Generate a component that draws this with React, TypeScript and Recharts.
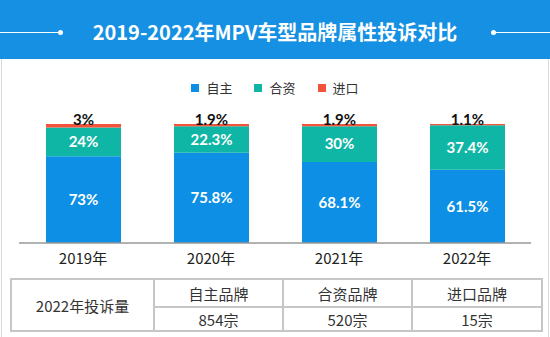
import React from 'react';
import { BarChart, Bar, XAxis, YAxis, Legend, LabelList } from 'recharts';

const years = ['2019年', '2020年', '2021年', '2022年'];
const domestic = [73, 75.8, 68.1, 61.5];
const joint = [24, 22.3, 30, 37.4];
const imported = [3, 1.9, 1.9, 1.1];
const seriesNames = ['自主', '合资', '进口'];

const tableTitle = '2022年投诉量';
const brandHeads = ['自主品牌', '合资品牌', '进口品牌'];
const counts2022 = ['854宗', '520宗', '15宗'];

const COLORS = ['#0C8FE4', '#10B6A5', '#F2533B'];
const CJK = '"Noto Sans CJK SC", "Noto Sans", sans-serif';
const NUM = 'Lato, "Noto Sans", sans-serif';

const chartData = years.map((year, i) => ({
  year,
  domestic: domestic[i],
  joint: joint[i],
  imported: imported[i],
}));

const pct = (v: any) => `${v}%`;

const TopLabel = (props: any) => {
  const { x, y, width, value } = props;
  return (
    <text
      x={x + width / 2}
      y={y + 1}
      textAnchor="middle"
      fill="#111"
      fontSize={15}
      fontWeight={700}
      fontFamily={NUM}
    >
      {pct(value)}
    </text>
  );
};

const LegendContent = () => (
  <div style={{ display: 'flex', justifyContent: 'center', gap: 22, fontFamily: CJK, fontSize: 13, color: '#333' }}>
    {seriesNames.map((name, i) => (
      <div key={name} style={{ display: 'flex', alignItems: 'center' }}>
        <span style={{ width: 8, height: 8, background: COLORS[i], marginRight: 7, display: 'inline-block' }} />
        <span>{name}</span>
      </div>
    ))}
  </div>
);

const cell: React.CSSProperties = {
  border: '2px solid #c6c6c6',
  textAlign: 'center',
  padding: 0,
  color: '#333',
  fontSize: 15,
  fontFamily: CJK,
};

const App: React.FC = () => {
  return (
    <div style={{ position: 'fixed', left: 0, top: 0, width: 550, height: 337, background: '#fff', overflow: 'hidden' }}>
      {/* header */}
      <div style={{ position: 'absolute', left: 0, top: 0, width: 550, height: 59, background: '#1590E3' }}>
        <div style={{ position: 'absolute', left: 0, top: 32, width: 60, height: 1, background: '#fff' }} />
        <div style={{ position: 'absolute', left: 58, top: 30, width: 5, height: 5, borderRadius: 3, background: '#fff' }} />
        <div style={{ position: 'absolute', left: 491, top: 30, width: 5, height: 5, borderRadius: 3, background: '#fff' }} />
        <div style={{ position: 'absolute', left: 493, top: 32, width: 57, height: 1, background: '#fff' }} />
        <div
          style={{
            position: 'absolute',
            left: 0,
            top: 17,
            width: 550,
            textAlign: 'center',
            color: '#fff',
            fontFamily: CJK,
            fontWeight: 700,
            fontSize: 20,
            lineHeight: '30px',
          }}
        >
          2019-2022年MPV车型品牌属性投诉对比
        </div>
      </div>
      {/* panel borders */}
      <div style={{ position: 'absolute', left: 1, top: 59, width: 546, height: 278, borderLeft: '1px solid #d8d8d8', borderRight: '1px solid #d8d8d8' }} />

      <div style={{ position: 'absolute', left: 0, top: 0 }}>
        <BarChart width={550} height={337} data={chartData} margin={{ top: 124, right: 19, left: 19, bottom: 64 }}>
          <XAxis
            dataKey="year"
            height={30}
            tickLine={false}
            tickSize={0}
            tickMargin={10}
            axisLine={{ stroke: '#999', strokeWidth: 1.5 }}
            tick={{ fill: '#222', fontSize: 15, fontFamily: CJK }}
          />
          <YAxis hide domain={[0, 100]} />
          <Legend
            layout="horizontal"
            verticalAlign="middle"
            align="center"
            content={<LegendContent />}
            wrapperStyle={{ top: 78, left: 0, width: 550 }}
          />
          <Bar dataKey="domestic" name={seriesNames[0]} stackId="a" fill={COLORS[0]} barSize={75} isAnimationActive={false}>
            <LabelList dataKey="domestic" position="center" formatter={pct} fill="#fff" fontSize={15} fontWeight={700} fontFamily={NUM} />
          </Bar>
          <Bar dataKey="joint" name={seriesNames[1]} stackId="a" fill={COLORS[1]} barSize={75} isAnimationActive={false}>
            <LabelList dataKey="joint" position="center" formatter={pct} fill="#fff" fontSize={15} fontWeight={700} fontFamily={NUM} />
          </Bar>
          <Bar dataKey="imported" name={seriesNames[2]} stackId="a" fill={COLORS[2]} barSize={75} isAnimationActive={false}>
            <LabelList dataKey="imported" content={<TopLabel />} />
          </Bar>
        </BarChart>
      </div>

      {/* 2022 complaint table */}
      <table
        style={{
          position: 'absolute',
          left: 10,
          top: 278,
          width: 531,
          height: 52,
          borderCollapse: 'collapse',
          tableLayout: 'fixed',
        }}
      >
        <colgroup>
          <col style={{ width: 143 }} />
          <col style={{ width: 129 }} />
          <col style={{ width: 129 }} />
          <col style={{ width: 130 }} />
        </colgroup>
        <tbody>
          <tr style={{ height: 28 }}>
            <td rowSpan={2} style={cell}>{tableTitle}</td>
            {brandHeads.map((h) => (
              <td key={h} style={cell}>{h}</td>
            ))}
          </tr>
          <tr style={{ height: 24 }}>
            {counts2022.map((c) => (
              <td key={c} style={cell}>{c}</td>
            ))}
          </tr>
        </tbody>
      </table>
    </div>
  );
};

export default App;
